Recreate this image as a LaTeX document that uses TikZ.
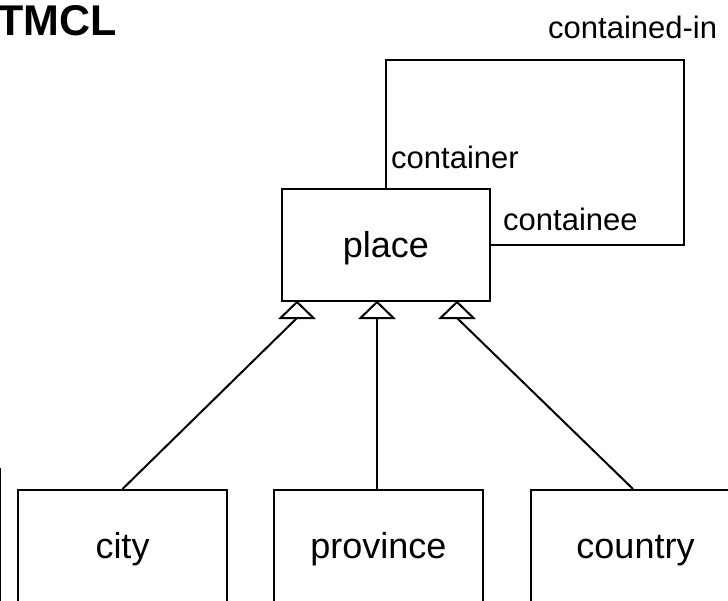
\documentclass[tikz,border=0pt]{standalone}
\usepackage{fontspec}
\setmainfont{Liberation Sans}
\begin{document}
\begin{tikzpicture}[x=1pt,y=-1pt,
  box/.style={draw,line width=2pt,minimum width=208pt,minimum height=112pt,inner sep=0pt,
    font=\fontsize{36}{40}\selectfont,text height=25pt,text depth=0pt},
  lbl/.style={font=\fontsize{31}{34}\selectfont,inner sep=0pt,anchor=base west},
  conn/.style={line width=2pt},
  tri/.style={line width=2pt,line join=miter,fill=white}]
\useasboundingbox (0,0) rectangle (728,600);
\clip (0,0) rectangle (728,600);
\node[font=\bfseries\fontsize{43}{46}\selectfont,inner sep=0pt,anchor=base west] (title) at (-3,35) {TMCL};
\node[box] (place) at (386,245) {place};
\node[box,minimum width=209pt] (city) at (122.5,546) {city};
\node[box,minimum width=209pt] (province) at (378.5,546) {province};
\node[box,minimum width=209pt] (country) at (635.5,546) {country};
\node[draw,line width=2pt,minimum width=200pt,minimum height=200pt,anchor=north east] (other) at (1,468) {};
\coordinate (rt) at (684,60);
\draw[conn] (place.north) |- (rt) |- (place.east);
\node[lbl] (container) at (391,168) {container};
\node[lbl] (containee) at (503,230) {containee};
\node[lbl] (containedin) at (548,38) {contained-in};
% apexes of the generalization triangles
\coordinate (g1) at ([xshift=16pt]place.south west);
\coordinate (g2) at ([xshift=96pt]place.south west);
\coordinate (g3) at ([xshift=176pt]place.south west);
% bases
\coordinate (b1) at ([yshift=-16pt]g1);
\coordinate (b2) at ([yshift=-16pt]g2);
\coordinate (b3) at ([yshift=-16pt]g3);
\draw[conn] (city.north) -- (b1);
\draw[conn] ([xshift=-1.5pt]province.north) -- (b2);
\draw[conn] ([xshift=-2.5pt]country.north) -- (b3);
\foreach \g/\b in {g1/b1,g2/b2,g3/b3}{
  \draw[tri] ([xshift=-16.5pt]\b) -- (\g) -- ([xshift=16.5pt]\b) -- cycle;
}
\end{tikzpicture}
\end{document}
